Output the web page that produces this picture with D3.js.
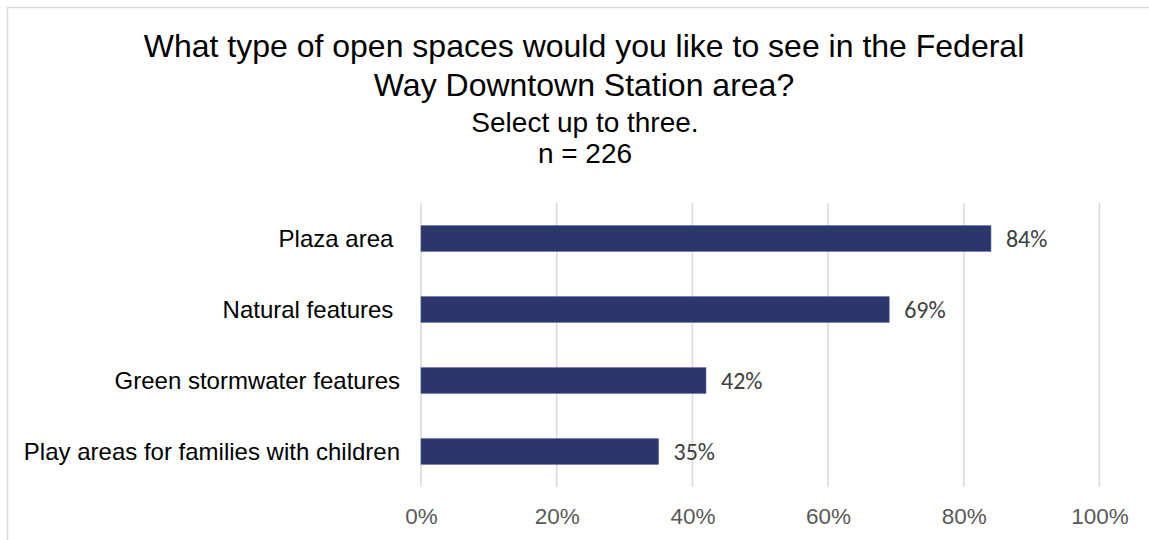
<!DOCTYPE html>
<html>
<head>
<meta charset="utf-8">
<script src="https://cdn.jsdelivr.net/npm/d3@7/dist/d3.min.js"></script>
<style>
  html, body { margin: 0; padding: 0; background: #ffffff; }
  svg { display: block; }
  text { white-space: pre; }
</style>
</head>
<body>
<script>
// Survey responses: share of respondents choosing each open-space type
const categories = ["Plaza area ", "Natural features ", "Green stormwater features", "Play areas for families with children"];
const shares = [0.84, 0.69, 0.42, 0.35];
const dataLabels = ["84%", "69%", "42%", "35%"];
const tickValues = [0, 0.2, 0.4, 0.6, 0.8, 1.0];
const titleLines = ["What type of open spaces would you like to see in the Federal", "Way Downtown Station area?"];
const subtitleLines = ["Select up to three.", "n = 226"];

const W = 1149, H = 540;
const svg = d3.select("body").append("svg").attr("width", W).attr("height", H);

// frame lines
svg.append("line").attr("x1", 7).attr("x2", W).attr("y1", 7.5).attr("y2", 7.5)
  .attr("stroke", "#d9d9d9").attr("stroke-width", 1.5);
svg.append("line").attr("x1", 7.5).attr("x2", 7.5).attr("y1", 7).attr("y2", H)
  .attr("stroke", "#d9d9d9").attr("stroke-width", 1.5);

// titles
const tf = "Liberation Sans, Arial, sans-serif";
svg.selectAll("text.title").data(titleLines).join("text")
  .attr("class", "title")
  .attr("x", 584).attr("y", (d, i) => 57 + i * 38.5)
  .attr("text-anchor", "middle")
  .attr("font-family", tf).attr("font-size", 32).attr("fill", "#000")
  .text(d => d);
svg.selectAll("text.sub").data(subtitleLines).join("text")
  .attr("class", "sub")
  .attr("x", 585).attr("y", (d, i) => 132 + i * 31)
  .attr("text-anchor", "middle")
  .attr("font-family", tf).attr("font-size", 28).attr("fill", "#000")
  .text(d => d);

// scales
const x = d3.scaleLinear().domain([0, 1]).range([421, 1099.5]);
const y = d3.scaleBand().domain(categories).range([203, 487])
  .paddingInner(0.64).paddingOuter(0.32);

// vertical gridlines
svg.append("g").selectAll("line").data(tickValues).join("line")
  .attr("x1", d => x(d)).attr("x2", d => x(d))
  .attr("y1", 203).attr("y2", 487)
  .attr("stroke", "#d9d9d9").attr("stroke-width", 1.5);

// x axis tick labels
const xAxis = d3.axisBottom(x).tickValues(tickValues).tickSize(0).tickPadding(0)
  .tickFormat(d3.format(".0%"));
const gx = svg.append("g").attr("transform", "translate(0,508)").call(xAxis);
gx.select(".domain").remove();
gx.selectAll("text").attr("font-family", tf).attr("font-size", 22.5).attr("fill", "#595959")
  .attr("dy", "0.71em");

// y axis category labels
const yAxis = d3.axisLeft(y).tickSize(0).tickPadding(0);
const gy = svg.append("g").attr("transform", "translate(400,0)").call(yAxis);
gy.select(".domain").remove();
gy.selectAll("text").attr("font-family", tf).attr("font-size", 24).attr("fill", "#000")
  .attr("dy", "0.35em");

// bars
svg.append("g").selectAll("rect").data(categories).join("rect")
  .attr("x", x(0))
  .attr("y", d => y(d))
  .attr("width", (d, i) => x(shares[i]) - x(0))
  .attr("height", y.bandwidth())
  .attr("fill", "#2b376c")
  .attr("stroke", "#4a5590").attr("stroke-width", 0.6);

// data labels
svg.append("g").selectAll("text").data(categories).join("text")
  .attr("x", (d, i) => x(shares[i]) + 15)
  .attr("y", d => y(d) + y.bandwidth() / 2)
  .attr("dy", "0.35em")
  .attr("font-family", "Carlito, Lato, 'Open Sans', sans-serif")
  .attr("font-size", 24).attr("fill", "#404040")
  .text((d, i) => dataLabels[i]);
</script>
</body>
</html>
